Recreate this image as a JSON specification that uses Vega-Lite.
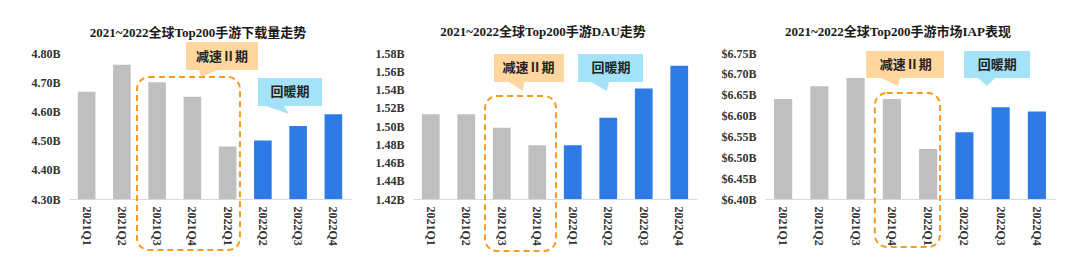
{
  "$schema": "https://vega.github.io/schema/vega-lite/v6.json",
  "padding": {"left": 30, "top": 26, "right": 5, "bottom": 5},
  "spacing": 23,
  "config": {
    "view": {"stroke": null},
    "font": "Liberation Serif, Noto Sans CJK SC",
    "title": {"font": "Liberation Serif, Noto Sans CJK SC", "fontSize": 13, "fontWeight": "bold", "color": "#1a1a1a", "anchor": "middle", "frame": "group", "dx": -12, "offset": 8},
    "axis": {"labelFont": "Liberation Serif, Noto Sans CJK SC", "labelFontWeight": "bold", "labelFontSize": 12, "labelColor": "#333333", "grid": false, "ticks": false, "title": null}
  },
  "datasets": {
    "dl": [
      {"q": "2021Q1", "v": 4.667, "phase": "slow"},
      {"q": "2021Q2", "v": 4.76, "phase": "slow"},
      {"q": "2021Q3", "v": 4.70, "phase": "slow"},
      {"q": "2021Q4", "v": 4.65, "phase": "slow"},
      {"q": "2022Q1", "v": 4.48, "phase": "slow"},
      {"q": "2022Q2", "v": 4.50, "phase": "warm"},
      {"q": "2022Q3", "v": 4.55, "phase": "warm"},
      {"q": "2022Q4", "v": 4.59, "phase": "warm"}
    ],
    "dau": [
      {"q": "2021Q1", "v": 1.513, "phase": "slow"},
      {"q": "2021Q2", "v": 1.513, "phase": "slow"},
      {"q": "2021Q3", "v": 1.498, "phase": "slow"},
      {"q": "2021Q4", "v": 1.479, "phase": "slow"},
      {"q": "2022Q1", "v": 1.479, "phase": "warm"},
      {"q": "2022Q2", "v": 1.509, "phase": "warm"},
      {"q": "2022Q3", "v": 1.541, "phase": "warm"},
      {"q": "2022Q4", "v": 1.566, "phase": "warm"}
    ],
    "iap": [
      {"q": "2021Q1", "v": 6.64, "phase": "slow"},
      {"q": "2021Q2", "v": 6.67, "phase": "slow"},
      {"q": "2021Q3", "v": 6.69, "phase": "slow"},
      {"q": "2021Q4", "v": 6.64, "phase": "slow"},
      {"q": "2022Q1", "v": 6.52, "phase": "slow"},
      {"q": "2022Q2", "v": 6.56, "phase": "warm"},
      {"q": "2022Q3", "v": 6.62, "phase": "warm"},
      {"q": "2022Q4", "v": 6.61, "phase": "warm"}
    ],
    "box1": [
      {"kind": "slow", "x1": 3.32, "x2": 5.36, "y1": 4.838, "y2": 4.742, "cx": 4.34, "cy": 4.788, "label": "减速Ⅱ期"},
      {"kind": "warm", "x1": 5.36, "x2": 7.18, "y1": 4.7144, "y2": 4.6185, "cx": 6.27, "cy": 4.666, "label": "回暖期"}
    ],
    "ptr1": [
      {"kind": "slow", "px": 3.69, "py": 4.7418, "pb": 4.7418},
      {"kind": "slow", "px": 3.74, "py": 4.7178, "pb": 4.7418},
      {"kind": "slow", "px": 4.23, "py": 4.7418, "pb": 4.7418},
      {"kind": "warm", "px": 5.59, "py": 4.6185, "pb": 4.6185},
      {"kind": "warm", "px": 6.10, "py": 4.597, "pb": 4.6185},
      {"kind": "warm", "px": 6.24, "py": 4.591, "pb": 4.591}
    ],
    "dash1": [{"x1": 1.93, "x2": 4.85, "y1": 4.7178, "y2": 4.1253}],
    "box2": [
      {"kind": "slow", "x1": 2.28, "x2": 4.25, "y1": 1.5789, "y2": 1.5482, "cx": 3.25, "cy": 1.5636, "label": "减速Ⅱ期"},
      {"kind": "warm", "x1": 4.65, "x2": 6.48, "y1": 1.5789, "y2": 1.5482, "cx": 5.58, "cy": 1.5636, "label": "回暖期"}
    ],
    "ptr2": [
      {"kind": "slow", "px": 2.70, "py": 1.5482, "pb": 1.5482},
      {"kind": "slow", "px": 3.10, "py": 1.5384, "pb": 1.5482},
      {"kind": "slow", "px": 3.13, "py": 1.5482, "pb": 1.5482},
      {"kind": "warm", "px": 5.01, "py": 1.5482, "pb": 1.5482},
      {"kind": "warm", "px": 5.46, "py": 1.5384, "pb": 1.5482},
      {"kind": "warm", "px": 5.52, "py": 1.5482, "pb": 1.5482}
    ],
    "dash2": [{"x1": 2.03, "x2": 4.03, "y1": 1.5329, "y2": 1.363}],
    "box3": [
      {"kind": "slow", "x1": 2.79, "x2": 4.94, "y1": 6.7548, "y2": 6.690, "cx": 3.88, "cy": 6.7224, "label": "减速Ⅱ期"},
      {"kind": "warm", "x1": 5.49, "x2": 7.31, "y1": 6.7548, "y2": 6.690, "cx": 6.41, "cy": 6.7224, "label": "回暖期"}
    ],
    "ptr3": [
      {"kind": "slow", "px": 3.20, "py": 6.690, "pb": 6.690},
      {"kind": "slow", "px": 3.67, "py": 6.671, "pb": 6.690},
      {"kind": "slow", "px": 3.72, "py": 6.690, "pb": 6.690},
      {"kind": "warm", "px": 5.88, "py": 6.690, "pb": 6.690},
      {"kind": "warm", "px": 6.12, "py": 6.671, "pb": 6.690},
      {"kind": "warm", "px": 6.35, "py": 6.690, "pb": 6.690}
    ],
    "dash3": [{"x1": 3.03, "x2": 4.83, "y1": 6.654, "y2": 6.285}]
  },
  "hconcat": [
    {
      "width": 282, "height": 146,
      "title": {"text": "2021~2022全球Top200手游下载量走势", "offset": 2},
      "resolve": {"scale": {"x": "independent", "y": "independent", "color": "independent"}},
      "layer": [
        {
          "data": {"name": "dl"},
          "mark": {"type": "bar"},
          "encoding": {
            "x": {"field": "q", "type": "nominal", "sort": null, "scale": {"paddingInner": 0.5, "paddingOuter": 0.25}, "axis": {"labelAngle": 90, "labelPadding": 7, "domainColor": "#D9D9D9", "title": null}},
            "y": {"field": "v", "type": "quantitative", "scale": {"domain": [4.3, 4.8], "nice": false, "zero": false}, "axis": {"values": [4.3, 4.4, 4.5, 4.6, 4.7, 4.8], "labelExpr": "format(datum.value, '.2f') + 'B'", "domain": false, "labelPadding": 9, "title": null}},
            "y2": {"datum": 4.3},
            "color": {"field": "phase", "type": "nominal", "scale": {"domain": ["slow", "warm"], "range": ["#BFBFBF", "#2E7BE6"]}, "legend": null}
          }
        },
        {
          "data": {"name": "dash1"},
          "mark": {"type": "rect", "filled": false, "color": "#F59B1F", "strokeWidth": 2, "strokeDash": [6, 4], "cornerRadius": 12},
          "encoding": {
            "x": {"field": "x1", "type": "quantitative", "scale": {"domain": [0, 8], "nice": false, "zero": false}, "axis": null},
            "x2": {"field": "x2"},
            "y": {"field": "y1", "type": "quantitative", "scale": {"domain": [4.3, 4.8], "nice": false, "zero": false}, "axis": null},
            "y2": {"field": "y2"}
          }
        },
        {
          "data": {"name": "box1"},
          "mark": {"type": "rect"},
          "encoding": {
            "x": {"field": "x1", "type": "quantitative", "scale": {"domain": [0, 8], "nice": false, "zero": false}, "axis": null},
            "x2": {"field": "x2"},
            "y": {"field": "y1", "type": "quantitative", "scale": {"domain": [4.3, 4.8], "nice": false, "zero": false}, "axis": null},
            "y2": {"field": "y2"},
            "color": {"field": "kind", "type": "nominal", "scale": {"domain": ["slow", "warm"], "range": ["#FFD79E", "#A3E2F8"]}, "legend": null}
          }
        },
        {
          "data": {"name": "ptr1"},
          "mark": {"type": "area"},
          "encoding": {
            "x": {"field": "px", "type": "quantitative", "scale": {"domain": [0, 8], "nice": false, "zero": false}, "axis": null},
            "y": {"field": "py", "type": "quantitative", "scale": {"domain": [4.3, 4.8], "nice": false, "zero": false}, "axis": null},
            "y2": {"field": "pb"},
            "color": {"field": "kind", "type": "nominal", "scale": {"domain": ["slow", "warm"], "range": ["#FFD79E", "#A3E2F8"]}, "legend": null}
          }
        },
        {
          "data": {"name": "box1"},
          "mark": {"type": "text", "fontSize": 13, "fontWeight": "bold", "color": "#222222"},
          "encoding": {
            "x": {"field": "cx", "type": "quantitative", "scale": {"domain": [0, 8], "nice": false, "zero": false}, "axis": null},
            "y": {"field": "cy", "type": "quantitative", "scale": {"domain": [4.3, 4.8], "nice": false, "zero": false}, "axis": null},
            "text": {"field": "label"}
          }
        }
      ]
    },
    {
      "width": 284, "height": 146,
      "title": {"text": "2021~2022全球Top200手游DAU走势"},
      "resolve": {"scale": {"x": "independent", "y": "independent", "color": "independent"}},
      "layer": [
        {
          "data": {"name": "dau"},
          "mark": {"type": "bar"},
          "encoding": {
            "x": {"field": "q", "type": "nominal", "sort": null, "scale": {"paddingInner": 0.5, "paddingOuter": 0.25}, "axis": {"labelAngle": 90, "labelPadding": 7, "domainColor": "#D9D9D9", "title": null}},
            "y": {"field": "v", "type": "quantitative", "scale": {"domain": [1.42, 1.58], "nice": false, "zero": false}, "axis": {"values": [1.42, 1.44, 1.46, 1.48, 1.5, 1.52, 1.54, 1.56, 1.58], "labelExpr": "format(datum.value, '.2f') + 'B'", "domain": false, "labelPadding": 9, "title": null}},
            "y2": {"datum": 1.42},
            "color": {"field": "phase", "type": "nominal", "scale": {"domain": ["slow", "warm"], "range": ["#BFBFBF", "#2E7BE6"]}, "legend": null}
          }
        },
        {
          "data": {"name": "dash2"},
          "mark": {"type": "rect", "filled": false, "color": "#F59B1F", "strokeWidth": 2, "strokeDash": [6, 4], "cornerRadius": 12},
          "encoding": {
            "x": {"field": "x1", "type": "quantitative", "scale": {"domain": [0, 8], "nice": false, "zero": false}, "axis": null},
            "x2": {"field": "x2"},
            "y": {"field": "y1", "type": "quantitative", "scale": {"domain": [1.42, 1.58], "nice": false, "zero": false}, "axis": null},
            "y2": {"field": "y2"}
          }
        },
        {
          "data": {"name": "box2"},
          "mark": {"type": "rect"},
          "encoding": {
            "x": {"field": "x1", "type": "quantitative", "scale": {"domain": [0, 8], "nice": false, "zero": false}, "axis": null},
            "x2": {"field": "x2"},
            "y": {"field": "y1", "type": "quantitative", "scale": {"domain": [1.42, 1.58], "nice": false, "zero": false}, "axis": null},
            "y2": {"field": "y2"},
            "color": {"field": "kind", "type": "nominal", "scale": {"domain": ["slow", "warm"], "range": ["#FFD79E", "#A3E2F8"]}, "legend": null}
          }
        },
        {
          "data": {"name": "ptr2"},
          "mark": {"type": "area"},
          "encoding": {
            "x": {"field": "px", "type": "quantitative", "scale": {"domain": [0, 8], "nice": false, "zero": false}, "axis": null},
            "y": {"field": "py", "type": "quantitative", "scale": {"domain": [1.42, 1.58], "nice": false, "zero": false}, "axis": null},
            "y2": {"field": "pb"},
            "color": {"field": "kind", "type": "nominal", "scale": {"domain": ["slow", "warm"], "range": ["#FFD79E", "#A3E2F8"]}, "legend": null}
          }
        },
        {
          "data": {"name": "box2"},
          "mark": {"type": "text", "fontSize": 13, "fontWeight": "bold", "color": "#222222"},
          "encoding": {
            "x": {"field": "cx", "type": "quantitative", "scale": {"domain": [0, 8], "nice": false, "zero": false}, "axis": null},
            "y": {"field": "cy", "type": "quantitative", "scale": {"domain": [1.42, 1.58], "nice": false, "zero": false}, "axis": null},
            "text": {"field": "label"}
          }
        }
      ]
    },
    {
      "width": 290, "height": 146,
      "title": {"text": "2021~2022全球Top200手游市场IAP表现"},
      "resolve": {"scale": {"x": "independent", "y": "independent", "color": "independent"}},
      "layer": [
        {
          "data": {"name": "iap"},
          "mark": {"type": "bar"},
          "encoding": {
            "x": {"field": "q", "type": "nominal", "sort": null, "scale": {"paddingInner": 0.5, "paddingOuter": 0.25}, "axis": {"labelAngle": 90, "labelPadding": 7, "domainColor": "#D9D9D9", "title": null}},
            "y": {"field": "v", "type": "quantitative", "scale": {"domain": [6.4, 6.75], "nice": false, "zero": false}, "axis": {"values": [6.4, 6.45, 6.5, 6.55, 6.6, 6.65, 6.7, 6.75], "labelExpr": "'$' + format(datum.value, '.2f') + 'B'", "domain": false, "labelPadding": 9, "title": null}},
            "y2": {"datum": 6.4},
            "color": {"field": "phase", "type": "nominal", "scale": {"domain": ["slow", "warm"], "range": ["#BFBFBF", "#2E7BE6"]}, "legend": null}
          }
        },
        {
          "data": {"name": "dash3"},
          "mark": {"type": "rect", "filled": false, "color": "#F59B1F", "strokeWidth": 2, "strokeDash": [6, 4], "cornerRadius": 12},
          "encoding": {
            "x": {"field": "x1", "type": "quantitative", "scale": {"domain": [0, 8], "nice": false, "zero": false}, "axis": null},
            "x2": {"field": "x2"},
            "y": {"field": "y1", "type": "quantitative", "scale": {"domain": [6.4, 6.75], "nice": false, "zero": false}, "axis": null},
            "y2": {"field": "y2"}
          }
        },
        {
          "data": {"name": "box3"},
          "mark": {"type": "rect"},
          "encoding": {
            "x": {"field": "x1", "type": "quantitative", "scale": {"domain": [0, 8], "nice": false, "zero": false}, "axis": null},
            "x2": {"field": "x2"},
            "y": {"field": "y1", "type": "quantitative", "scale": {"domain": [6.4, 6.75], "nice": false, "zero": false}, "axis": null},
            "y2": {"field": "y2"},
            "color": {"field": "kind", "type": "nominal", "scale": {"domain": ["slow", "warm"], "range": ["#FFD79E", "#A3E2F8"]}, "legend": null}
          }
        },
        {
          "data": {"name": "ptr3"},
          "mark": {"type": "area"},
          "encoding": {
            "x": {"field": "px", "type": "quantitative", "scale": {"domain": [0, 8], "nice": false, "zero": false}, "axis": null},
            "y": {"field": "py", "type": "quantitative", "scale": {"domain": [6.4, 6.75], "nice": false, "zero": false}, "axis": null},
            "y2": {"field": "pb"},
            "color": {"field": "kind", "type": "nominal", "scale": {"domain": ["slow", "warm"], "range": ["#FFD79E", "#A3E2F8"]}, "legend": null}
          }
        },
        {
          "data": {"name": "box3"},
          "mark": {"type": "text", "fontSize": 13, "fontWeight": "bold", "color": "#222222"},
          "encoding": {
            "x": {"field": "cx", "type": "quantitative", "scale": {"domain": [0, 8], "nice": false, "zero": false}, "axis": null},
            "y": {"field": "cy", "type": "quantitative", "scale": {"domain": [6.4, 6.75], "nice": false, "zero": false}, "axis": null},
            "text": {"field": "label"}
          }
        }
      ]
    }
  ]
}
